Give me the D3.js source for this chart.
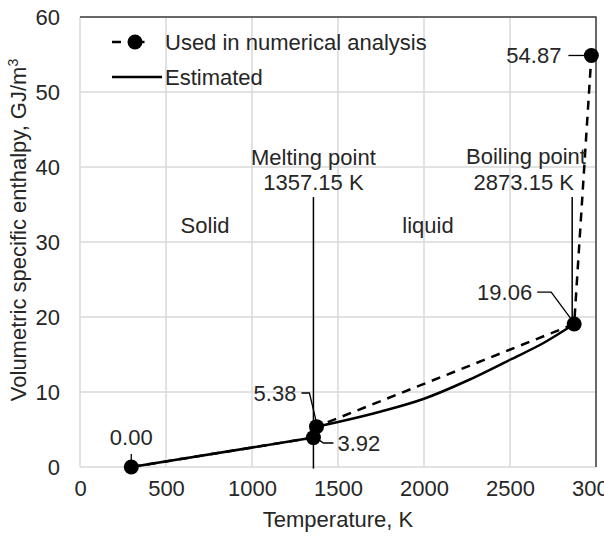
<!DOCTYPE html>
<html>
<head>
<meta charset="utf-8">
<script src="https://cdn.jsdelivr.net/npm/d3@7"></script>
<style>
  body { margin: 0; background: #fff; }
  text { font-family: "Liberation Sans", Arial, sans-serif; fill: #262626; }
</style>
</head>
<body>
<script>
// data
const usedT = [298.15, 1357.15, 1375, 2873.15, 2973.15];
const usedH = [0, 3.92, 5.38, 19.06, 54.87];
const estSolidT = [298.15, 1357.15];
const estSolidH = [0, 3.92];
const estLiquidT = [1375, 1500, 1750, 2000, 2250, 2500, 2700, 2873.15];
const estLiquidH = [5.38, 6.0, 7.4, 9.1, 11.5, 14.3, 16.6, 19.06];
const xTicks = [0, 500, 1000, 1500, 2000, 2500, 3000];
const yTicks = [0, 10, 20, 30, 40, 50, 60];
const meltT = 1357.15, boilT = 2873.15;

const W = 604, H = 536;
const FS = '22px';
const margin = {top: 17, right: 8, bottom: 69, left: 80};
const width = W - margin.left - margin.right;
const height = H - margin.top - margin.bottom;

const svg = d3.select('body').append('svg')
  .attr('width', W).attr('height', H);
const g = svg.append('g')
  .attr('transform', `translate(${margin.left},${margin.top})`);

const x = d3.scaleLinear().domain([0, 3000]).range([0, width]);
const y = d3.scaleLinear().domain([0, 60]).range([height, 0]);

// gridlines
g.selectAll('.vgrid').data(xTicks).enter().append('line')
  .attr('x1', d => x(d)).attr('x2', d => x(d))
  .attr('y1', 0).attr('y2', height)
  .attr('stroke', '#d9d9d9').attr('stroke-width', 1.5);
g.selectAll('.hgrid').data(yTicks).enter().append('line')
  .attr('x1', 0).attr('x2', width)
  .attr('y1', d => y(d)).attr('y2', d => y(d))
  .attr('stroke', '#d9d9d9').attr('stroke-width', 1.5);

// top and right frame
g.append('path')
  .attr('d', `M0,0H${width}V${height}`)
  .attr('fill', 'none').attr('stroke', '#404040').attr('stroke-width', 1.5);

// axes
const xAxis = g.append('g')
  .attr('transform', `translate(0,${height})`)
  .call(d3.axisBottom(x).tickValues(xTicks).tickFormat(d3.format('d')).tickSize(0).tickPadding(13));
const yAxis = g.append('g')
  .call(d3.axisLeft(y).tickValues(yTicks).tickFormat(d3.format('d')).tickSize(0).tickPadding(20));
[xAxis, yAxis].forEach(a => {
  a.select('.domain').remove();
  a.selectAll('text').style('font-size', FS)
    .style('font-family', '"Liberation Sans", Arial, sans-serif').attr('fill', '#262626');
});

// axis titles
svg.append('text')
  .attr('x', margin.left + x(1500)).attr('y', 527)
  .attr('text-anchor', 'middle').style('font-size', FS)
  .text('Temperature, K');
const yt = svg.append('text')
  .attr('transform', 'translate(26,230) rotate(-90)')
  .attr('text-anchor', 'middle').style('font-size', FS);
yt.append('tspan').text('Volumetric specific enthalpy, GJ/m');
yt.append('tspan').attr('dy', -8).style('font-size', '14px').text('3');

// phase annotation lines
g.append('line')
  .attr('x1', x(meltT)).attr('x2', x(meltT))
  .attr('y1', y(36)).attr('y2', y(-0.2))
  .attr('stroke', '#000').attr('stroke-width', 1.5);
g.append('line')
  .attr('x1', x(boilT) - 2).attr('x2', x(boilT) - 2)
  .attr('y1', y(36)).attr('y2', y(19.06))
  .attr('stroke', '#000').attr('stroke-width', 1.5);

// estimated (solid) lines
const solidLine = d3.line().x(d => x(d[0])).y(d => y(d[1]));
const curveLine = d3.line().x(d => x(d[0])).y(d => y(d[1])).curve(d3.curveMonotoneX);
g.append('path')
  .datum(d3.zip(estSolidT, estSolidH))
  .attr('d', solidLine)
  .attr('fill', 'none').attr('stroke', '#000').attr('stroke-width', 2.5);
g.append('path')
  .datum(d3.zip(estLiquidT, estLiquidH))
  .attr('d', curveLine)
  .attr('fill', 'none').attr('stroke', '#000').attr('stroke-width', 2.5);

// used in numerical analysis (dashed + markers)
const usedData = d3.zip(usedT, usedH);
g.append('path')
  .datum(usedData)
  .attr('d', solidLine)
  .attr('fill', 'none').attr('stroke', '#000').attr('stroke-width', 2.5)
  .attr('stroke-dasharray', '9,7');
g.selectAll('.pt').data(usedData).enter().append('circle')
  .attr('cx', d => x(d[0])).attr('cy', d => y(d[1]))
  .attr('r', 7.5).attr('fill', '#000');

// data labels with leader lines
const labels = [
  {i: 0, tx: x(298.15), ty: y(0) - 22, anchor: 'middle',
   path: [[x(298.15), y(0) - 13], [x(298.15), y(0) - 6]]},
  {i: 2, tx: x(meltT) - 17, ty: y(0) - 66, anchor: 'end',
   path: [[x(meltT) - 12, y(0) - 74], [x(meltT) - 4, y(0) - 74], [x(1375), y(5.38) - 4]]},
  {i: 1, tx: x(meltT) + 24, ty: y(0) - 16, anchor: 'start',
   path: [[x(meltT) + 5, y(3.92) + 2], [x(meltT) + 10, y(0) - 24], [x(meltT) + 20, y(0) - 24]]},
  {i: 3, tx: x(boilT) - 42, ty: y(19.06) - 24, anchor: 'end',
   path: [[x(boilT) - 37, y(19.06) - 32], [x(boilT) - 23, y(19.06) - 32], [x(boilT) - 3, y(19.06) - 5]]},
  {i: 4, tx: x(2973.15) - 30, ty: y(54.87) + 8, anchor: 'end',
   path: [[x(2973.15) - 23, y(54.87)], [x(2973.15) - 7, y(54.87)]]}
];
labels.forEach(l => {
  g.append('path')
    .attr('d', d3.line()(l.path))
    .attr('fill', 'none').attr('stroke', '#000').attr('stroke-width', 1.3);
  g.append('text')
    .attr('x', l.tx).attr('y', l.ty)
    .attr('text-anchor', l.anchor).style('font-size', FS)
    .text(usedH[l.i].toFixed(2));
});

// region text
const notes = [
  {t: 'Melting point', T: 1357.15, v: 40.3},
  {t: '1357.15 K', T: 1357.15, v: 37.0},
  {t: 'Boiling point', T: 2593, v: 40.4},
  {t: '2873.15 K', T: 2580, v: 37.0},
  {t: 'Solid', T: 727, v: 31.2},
  {t: 'liquid', T: 2023, v: 31.2}
];
g.selectAll('.note').data(notes).enter().append('text')
  .attr('x', d => x(d.T)).attr('y', d => y(d.v))
  .attr('text-anchor', 'middle').style('font-size', FS)
  .text(d => d.t);

// legend
const lg = svg.append('g');
lg.append('line').attr('x1', 112).attr('x2', 158).attr('y1', 42).attr('y2', 42)
  .attr('stroke', '#000').attr('stroke-width', 2.5).attr('stroke-dasharray', '9,14.5');
lg.append('circle').attr('cx', 135).attr('cy', 42).attr('r', 7.5).attr('fill', '#000');
lg.append('text').attr('x', 165).attr('y', 50).style('font-size', FS)
  .text('Used in numerical analysis');
lg.append('line').attr('x1', 112).attr('x2', 162).attr('y1', 77).attr('y2', 77)
  .attr('stroke', '#000').attr('stroke-width', 2.5);
lg.append('text').attr('x', 165).attr('y', 85).style('font-size', FS)
  .text('Estimated');
</script>
</body>
</html>
